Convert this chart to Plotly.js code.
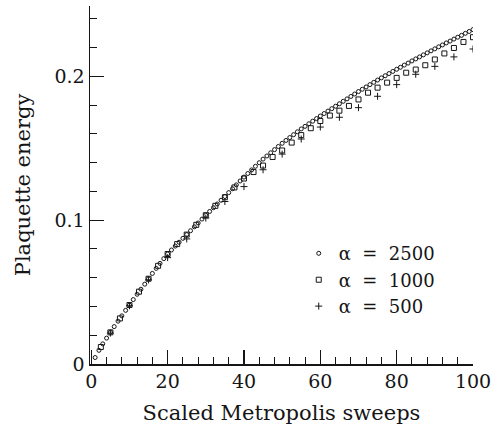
<!DOCTYPE html>
<html>
<head>
<meta charset="utf-8">
<script src="https://cdn.plot.ly/plotly-3.0.1.min.js"></script>
<style>html,body{margin:0;padding:0;background:#fff;}</style>
</head>
<body>
<div id="chart" style="width:498px;height:432px;"></div>
<script>
// alpha = 2500 (open circles), every sweep unit
const xA2500 = [1,2,3,4,5,6,7,8,9,10,11,12,13,14,15,16,17,18,19,20,21,22,23,24,25,26,27,28,29,30,31,32,33,34,35,36,37,38,39,40,41,42,43,44,45,46,47,48,49,50,51,52,53,54,55,56,57,58,59,60,61,62,63,64,65,66,67,68,69,70,71,72,73,74,75,76,77,78,79,80,81,82,83,84,85,86,87,88,89,90,91,92,93,94,95,96,97,98,99,100];
const yA2500 = [0.0045,0.0095,0.0140,0.0180,0.0220,0.0260,0.0298,0.0335,0.0373,0.0410,
0.0448,0.0485,0.0520,0.0555,0.0593,0.0630,0.0665,0.0700,0.0733,0.0765,
0.0793,0.0820,0.0847,0.0874,0.0900,0.0927,0.0954,0.0981,0.1008,0.1035,
0.1061,0.1087,0.1113,0.1139,0.1165,0.1192,0.1219,0.1246,0.1273,0.1300,
0.1325,0.1350,0.1375,0.1400,0.1425,0.1447,0.1469,0.1491,0.1513,0.1535,
0.1555,0.1575,0.1595,0.1615,0.1635,0.1653,0.1671,0.1689,0.1707,0.1725,
0.1742,0.1759,0.1776,0.1793,0.1810,0.1827,0.1844,0.1861,0.1878,0.1895,
0.1911,0.1927,0.1943,0.1959,0.1975,0.1990,0.2005,0.2020,0.2035,0.2050,
0.2064,0.2079,0.2093,0.2108,0.2122,0.2136,0.2150,0.2164,0.2178,0.2192,
0.2206,0.2219,0.2233,0.2246,0.2260,0.2273,0.2286,0.2300,0.2313,0.2326];

// alpha = 1000 (open squares)
const xA1000 = [2.5,5,7.5,10,12.5,15,17.5,20,22.5,25,27.5,30,32.5,35,37.5,40,42.5,45,47.5,50,52.5,55,57.5,60,62.5,65,67.5,70,72.5,75,77.5,80,82.5,85,87.5,90,92.5,95,97.5,100];
const yA1000 = [0.0118,0.0220,0.0317,0.0410,0.0503,0.0593,0.0683,0.0765,0.0834,0.0900,
0.0968,0.1035,0.1100,0.1160,0.1228,0.1290,0.1335,0.1380,0.1440,0.1485,
0.1540,0.1592,0.1640,0.1690,0.1728,0.1762,0.1795,0.1840,0.1887,0.1922,
0.1957,0.1990,0.2026,0.2048,0.2078,0.2118,0.2160,0.2198,0.2240,0.2273];

// alpha = 500 (crosses)
const xA500 = [5,10,15,20,25,30,35,40,45,50,55,60,65,70,75,80,85,90,95,100];
const yA500 = [0.0215,0.0405,0.0585,0.0740,0.0870,0.1015,0.1130,0.1234,0.1351,0.1460,
0.1565,0.1648,0.1716,0.1783,0.1862,0.1943,0.2015,0.2070,0.2136,0.2191];

const seriesNames = ["\u03b1\u00a0 =\u00a0 2500", "\u03b1\u00a0 =\u00a0 1000", "\u03b1\u00a0 =\u00a0 500"];
// tick spacing (labels 0,20,...,100 and 0,0.1,0.2 come from the linear ticks)
const xMajorStep = 20, xMinorStep = 4;
const yMajorStep = 0.1, yMinorStep = 0.02;
const xRange = [-0.34, 100];
const yRange = [0, 0.249];

const FONT = "DejaVu Serif";
const ink = "#151515";

const traces = [
  {x: xA2500, y: yA2500, name: seriesNames[0], type: "scatter", mode: "markers",
   marker: {symbol: "circle-open", size: 4, color: ink, line: {width: 1, color: ink}}},
  {x: xA1000, y: yA1000, name: seriesNames[1], type: "scatter", mode: "markers",
   marker: {symbol: "square-open", size: 5, color: ink, line: {width: 1, color: ink}}},
  {x: xA500, y: yA500, name: seriesNames[2], type: "scatter", mode: "markers",
   marker: {symbol: "cross-thin-open", size: 5, color: ink, line: {width: 1, color: ink}}}
];

function axis(step, minorStep, range, extra) {
  return Object.assign({
    showgrid: false, zeroline: false, showline: true, linecolor: ink, linewidth: 1.5,
    ticks: "inside", tickcolor: ink, tickwidth: 1.2, ticklen: 14,
    tickmode: "linear", tick0: 0, dtick: step, range: range,
    tickfont: {family: FONT, size: 19, color: ink},
    minor: {tickmode: "linear", tick0: 0, dtick: minorStep, ticks: "inside", ticklen: 7, tickwidth: 1, tickcolor: ink, showgrid: false}
  }, extra);
}

const layout = {
  width: 498, height: 432,
  margin: {l: 90, r: 25, t: 6, b: 68},
  showlegend: true,
  legend: {x: 0.545, y: 0.36, xanchor: "left", yanchor: "top", bgcolor: "rgba(0,0,0,0)",
           font: {family: FONT, size: 18, color: ink}},
  xaxis: axis(xMajorStep, xMinorStep, xRange, {
    title: {text: "Scaled Metropolis sweeps", font: {family: FONT, size: 21, color: ink}, standoff: 14}
  }),
  yaxis: axis(yMajorStep, yMinorStep, yRange, {
    title: {text: "Plaquette energy", font: {family: FONT, size: 21, color: ink}, standoff: 18}
  })
};

Plotly.newPlot("chart", traces, layout, {displayModeBar: false, staticPlot: true});
</script>
</body>
</html>
